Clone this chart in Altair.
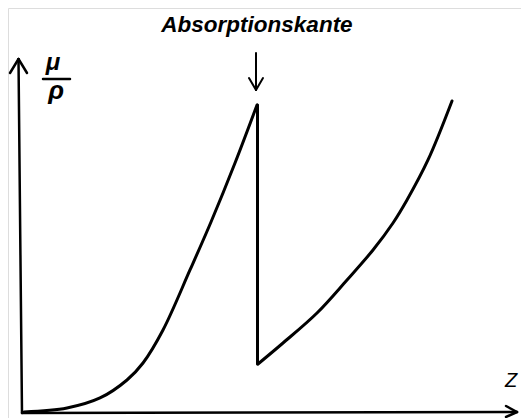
import altair as alt
import pandas as pd

# Values (Z in arbitrary units, mu/rho in arbitrary units)
left_z = [0.4, 9.0, 15.6, 21.0, 24.2, 28.2, 33.6, 37.8, 42.6, 47.0]
left_mu = [0.29, 1.43, 4.29, 9.43, 14.29, 23.71, 40.86, 54.57, 71.43, 88.0]
right_z = [47.2, 52.2, 59.0, 65.0, 70.2, 74.2, 77.0, 81.2, 86.0]
right_mu = [14.0, 20.0, 28.57, 38.0, 46.57, 54.29, 60.86, 72.29, 89.14]
edge_z = 47.1
title_text = "Absorptionskante"
x_label = "Z"

curve = pd.DataFrame({
    "z": left_z + right_z,
    "mu": left_mu + right_mu,
    "branch": ["left"] * len(left_z) + ["right"] * len(right_z),
})
edge = pd.DataFrame({"z": [edge_z], "top": [left_mu[-1]], "bottom": [right_mu[0]]})

xs = alt.Scale(domain=[-2.8, 99.8], nice=False, zero=False)
ys = alt.Scale(domain=[-1.43, 115.71], nice=False, zero=False)

lines = alt.Chart(curve).mark_line(
    color="black", strokeWidth=3, interpolate="catmull-rom", strokeCap="round"
).encode(
    x=alt.X("z:Q", scale=xs, axis=None),
    y=alt.Y("mu:Q", scale=ys, axis=None),
    detail="branch:N",
)

edge_rule = alt.Chart(edge).mark_rule(color="black", strokeWidth=3, strokeCap="round").encode(
    x=alt.X("z:Q", scale=xs, axis=None),
    y=alt.Y("top:Q", scale=ys, axis=None),
    y2="bottom:Q",
)

def seg(x1, y1, x2, y2, w=2.5):
    # annotation strokes (axes arrows), in pixel space of the plot area
    return alt.Chart(pd.DataFrame({"a": [0]})).mark_rule(
        color="black", strokeWidth=w, strokeCap="round"
    ).encode(
        x=alt.value(x1 - 8), y=alt.value(y1 - 8),
        x2=alt.value(x2 - 8), y2=alt.value(y2 - 8),
    )

def txt(s, x, y, size, style="italic", weight="bold", align="center"):
    return alt.Chart(pd.DataFrame({"t": [s]})).mark_text(
        font="Liberation Sans", fontSize=size, fontStyle=style, fontWeight=weight,
        align=align, baseline="alphabetic", color="black",
    ).encode(text="t:N", x=alt.value(x - 8), y=alt.value(y - 8))

layers = [
    lines,
    edge_rule,
    # y axis with arrow
    seg(22, 413, 18.5, 59),
    seg(10, 73, 18.5, 59),
    seg(27, 73, 18.5, 59),
    # x axis with arrow
    seg(22, 413, 517, 412),
    seg(506, 406, 517, 412),
    seg(506, 417, 517, 412),
    # edge marker arrow
    seg(256, 53, 256, 90, 2),
    seg(249, 78, 256, 90, 2),
    seg(263, 78, 256, 90, 2),
    # fraction bar
    seg(43, 79, 70, 79, 2.5),
    txt(title_text, 257, 32, 22.5),
    txt("\u03bc", 53, 70, 24),
    txt("\u03c1", 56, 99, 26),
    txt(x_label, 511, 387, 20, style="italic", weight="normal"),
]

chart = alt.layer(*layers).properties(
    width=513, height=410,
    autosize=alt.AutoSizeParams(type="none"),
    padding=0,
).configure_view(stroke=None).configure(background="white")

chart.save("out.html", embed_options={"renderer": "svg", "actions": False})
